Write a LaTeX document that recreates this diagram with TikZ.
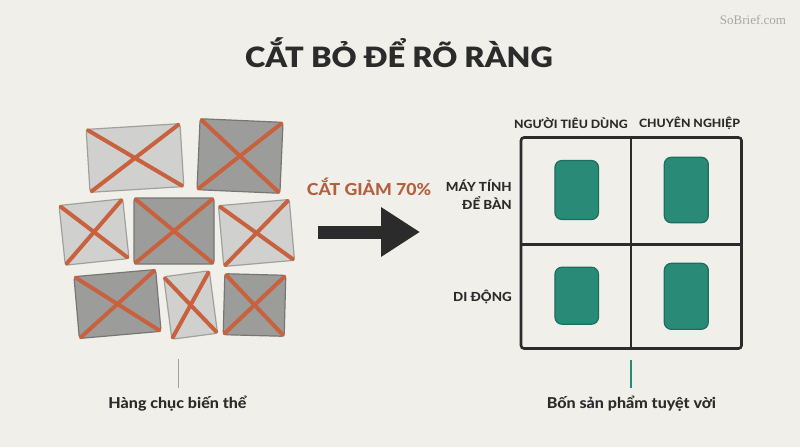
\documentclass[tikz,border=0pt]{standalone}
\usepackage{fontspec}
\setmainfont{Lato}[FakeStretch=1.07, BoldFont={Lato Heavy}]
\newfontfamily\titlefont{Lato Black}[FakeStretch=1.1]
\newfontfamily\wmfont{Liberation Serif}
\usetikzlibrary{arrows.meta}
\definecolor{bgc}{HTML}{F0EFE9}
\definecolor{ink}{HTML}{2B2B2B}
\definecolor{xred}{HTML}{C8623E}
\definecolor{cuttxt}{HTML}{B3603E}
\definecolor{teal}{HTML}{2A8A78}
\definecolor{tealdk}{HTML}{1F6D5F}
\definecolor{lcard}{HTML}{D0D0CF}
\definecolor{lcardb}{HTML}{A0A09E}
\definecolor{dcard}{HTML}{9C9C9B}
\definecolor{dcardb}{HTML}{767675}
\definecolor{wm}{HTML}{A8A8A4}
\tikzset{
  lightcard/.style={draw=lcardb, fill=lcard, line width=1.2pt, rounded corners=3pt, inner sep=0pt},
  darkcard/.style={draw=dcardb, fill=dcard, line width=1.2pt, rounded corners=3pt, inner sep=0pt},
  xline/.style={draw=xred, line width=4pt, line cap=round, shorten <=3pt, shorten >=3pt},
  prodbox/.style={draw=tealdk, fill=teal, line width=1.2pt, rounded corners=7pt, inner sep=0pt},
  gridline/.style={draw=ink, line width=2.6pt},
  hdr/.style={font=\bfseries\fontsize{11.5}{13}\selectfont, text=ink, inner sep=0pt},
  rowlbl/.style={font=\bfseries\fontsize{12.5}{18}\selectfont, text=ink, inner sep=0pt, align=right},
  caption/.style={font=\bfseries\fontsize{15}{18}\selectfont, text=ink, inner sep=0pt},
}
\begin{document}
\begin{tikzpicture}[x=1pt,y=-1pt]
\useasboundingbox[fill=bgc] (0,0) rectangle (800,447);
% watermark
\node[font=\wmfont\fontsize{13}{15}\selectfont, text=wm, inner sep=0pt] (wmk) at (753,20) {SoBrief.com};
% title
\node[font=\titlefont\fontsize{28}{30}\selectfont, text=ink, inner sep=0pt] (title) at (399,53) {CẮT BỎ ĐỂ RÕ RÀNG};
% cards
\node[lightcard, minimum width=94pt, minimum height=63pt, rotate=3.5] (c1) at (135,158) {};
\node[darkcard,  minimum width=83pt, minimum height=71pt, rotate=-2.5] (c2) at (240,156) {};
\node[lightcard, minimum width=64pt, minimum height=60pt, rotate=6] (c3) at (94,232) {};
\node[darkcard,  minimum width=80pt, minimum height=66pt, rotate=0] (c4) at (174,231) {};
\node[lightcard, minimum width=71pt, minimum height=61pt, rotate=5] (c5) at (256.5,233) {};
\node[darkcard,  minimum width=82pt, minimum height=62pt, rotate=5] (c6) at (117.5,304) {};
\node[lightcard, minimum width=46pt, minimum height=63pt, rotate=7.5] (c7) at (190.6,305) {};
\node[darkcard,  minimum width=61pt, minimum height=61pt, rotate=-1.5] (c8) at (254.5,305) {};
\foreach \c in {c1,c2,c3,c4,c5,c6,c7,c8}{
  \draw[xline] (\c.north west) -- (\c.south east);
  \draw[xline] (\c.north east) -- (\c.south west);
}
% cut label and arrow
\node[font=\bfseries\fontsize{16.5}{18}\selectfont, text=cuttxt, inner sep=0pt] (cut) at (369,187) {CẮT GIẢM 70\%};
\coordinate (arS) at (318,232);
\coordinate (arE) at (420,232);
\draw[draw=ink, line width=13pt, -{Triangle[length=39pt,width=47pt]}] (arS) -- (arE);
% grid
\coordinate (gTL) at (521,137.5);
\coordinate (gBR) at (741.5,348.5);
\coordinate (gTM) at (631,137.5);
\coordinate (gBM) at (631,348.5);
\coordinate (gML) at (521,244.3);
\coordinate (gMR) at (741.5,244.3);
\draw[gridline, rounded corners=3pt] (gTL) rectangle (gBR);
\draw[gridline] (gTM) -- (gBM);
\draw[gridline] (gML) -- (gMR);
% products
\node[prodbox, minimum width=43.5pt, minimum height=59pt] (p1) at (576.7,190) {};
\node[prodbox, minimum width=44pt, minimum height=65.5pt] (p2) at (686.3,190) {};
\node[prodbox, minimum width=43.5pt, minimum height=57pt] (p3) at (576.7,295.7) {};
\node[prodbox, minimum width=44pt, minimum height=66pt] (p4) at (686.3,296.3) {};
% headers
\node[hdr] (h1) at (571,123.5) {NGƯỜI TIÊU DÙNG};
\node[hdr] (h2) at (689.5,123.5) {CHUYÊN NGHIỆP};
\node[rowlbl, anchor=east] (r1) at (512,195) {MÁY TÍNH\\ĐỂ BÀN};
\node[rowlbl, anchor=east] (r2) at (512,297) {DI ĐỘNG};
% captions
\coordinate (l1a) at (178.3,359);
\coordinate (l1b) at (178.3,388);
\draw[draw=lcardb, line width=1.2pt] (l1a) -- (l1b);
\node[caption] (cap1) at (177.5,404) {Hàng chục biến thể};
\coordinate (l2a) at (631,360);
\coordinate (l2b) at (631,388);
\draw[draw=teal, line width=1.6pt] (l2a) -- (l2b);
\node[caption] (cap2) at (631.5,404) {Bốn sản phẩm tuyệt vời};
\end{tikzpicture}
\end{document}
